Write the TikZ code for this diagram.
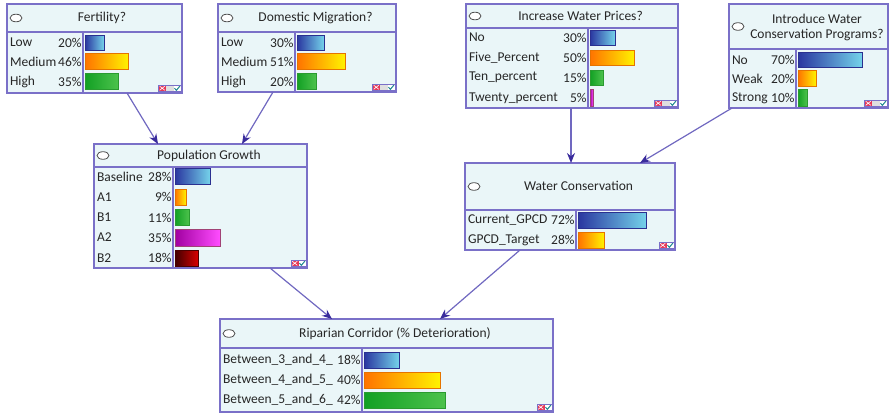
\documentclass[tikz,border=0pt]{standalone}
\usepackage{fontspec}
\setmainfont{Carlito}
\usetikzlibrary{arrows.meta,calc,fit}

\definecolor{boxfill}{HTML}{EAF6F8}
\definecolor{boxline}{HTML}{7A70C8}
\definecolor{linkline}{HTML}{7068C0}
\definecolor{linkhead}{HTML}{3A2C9C}
\definecolor{txt}{HTML}{262626}
\definecolor{xred}{HTML}{E83858}
\definecolor{chk}{HTML}{208890}
\definecolor{greenA}{HTML}{12A024}
\definecolor{greenB}{HTML}{4CC24C}
\definecolor{greenE}{HTML}{2A9A30}
\definecolor{blueA}{HTML}{2A36A0}
\definecolor{blueB}{HTML}{74D2EA}
\definecolor{blueE}{HTML}{2A3090}

\tikzset{
  every node/.style={font=\fontsize{13.5}{15}\selectfont, text=txt, inner sep=0pt, outer sep=0pt},
  cpt/.style={draw=boxline, line width=1.2pt, fill=boxfill, inner sep=0pt},
  rule/.style={draw=boxline, line width=1.1pt},
  link/.style={draw=linkline, line width=1.2pt, -{Stealth[length=10pt,width=8pt,color=linkhead]}},
  oval/.style={draw=txt!80, line width=0.8pt, fill=white},
  barblue/.style={left color=blueA, right color=blueB, draw=blueE},
  barorange/.style={left color=orange!90!red, right color=yellow!90!orange, draw=orange!90!black},
  bargreen/.style={left color=greenA, right color=greenB, draw=greenE},
  barpurple/.style={left color=violet!60!magenta!90!black, right color=magenta!70!white, draw=magenta!60!black},
  barred/.style={left color=red!25!black, right color=red!85!black, draw=red!30!black},
}

% a network node: name, x0, y0, x1, y1, title rule y, column divider x
\newcommand\cptbox[7]{%
  \coordinate (#1-nw) at (#2,#3);
  \coordinate (#1-se) at (#4,#5);
  \node[cpt, fit=(#1-nw)(#1-se)] (#1) {};
  \draw[rule] (#2,#6) -- (#4,#6);
  \draw[rule] (#7,#6) -- (#7,#5);
  \draw[oval] ({#2+9},{(#3+#6)/2}) ellipse (6 and 3.8);
}

% a state row: id, x0, divider, centre y, label, percent, bar length, bar style, bar height
\newcommand\crow[9]{%
  \node[anchor=west] (#1-l) at ({#2+3},#4) {#5};
  \node[anchor=east] (#1-p) at ({#3-1.5},#4) {#6};
  \draw[#8, line width=0.8pt] ({#3+2},{#4-#9/2}) rectangle ++(#7,#9);
}

% the small status tray at the bottom right corner of a node
\newcommand\tray[3]{%
  \begin{scope}[shift={(#1,#2)}]
    \ifnum#3=3
      \fill[xred] (-22.5,0) rectangle (-15,-6.5);
      \draw[white, line width=0.6pt] (-21.3,-1.2) -- (-16.2,-5.3) (-21.3,-5.3) -- (-16.2,-1.2);
      \fill[gray!25] (-15,0) rectangle (-7.5,-6.5);
    \else
      \fill[xred] (-15,0) rectangle (-7.5,-6.5);
      \draw[white, line width=0.6pt] (-13.8,-1.2) -- (-8.7,-5.3) (-13.8,-5.3) -- (-8.7,-1.2);
    \fi
    \fill[white] (-7.5,0) rectangle (0,-6.5);
    \draw[chk, line width=1pt] (-6.5,-3.3) -- (-4.6,-1.2) -- (-1,-5.6);
    \draw[boxline, line width=0.7pt] ({-7.5*#3},0) rectangle (0,-6.5);
  \end{scope}
}

\begin{document}
\begin{tikzpicture}[x=1pt,y=-1pt]
\useasboundingbox (0,0) rectangle (889,413);

% Fertility?
\cptbox{fert}{7}{4}{182}{93}{32}{83}
\node (fert-t) at (102,18) {Fertility?};
\crow{fert1}{7}{83}{42.5}{Low}{20\%}{19}{barblue}{15}
\crow{fert2}{7}{83}{61.5}{Medium}{46\%}{43}{barorange}{16}
\crow{fert3}{7}{83}{81.5}{High}{35\%}{33}{bargreen}{16}
\tray{181}{91.5}{3}

% Domestic Migration?
\cptbox{dom}{218}{4}{396}{92}{32}{295}
\node (dom-t) at (315.5,18) {Domestic Migration?};
\crow{dom1}{218}{295}{42.5}{Low}{30\%}{27}{barblue}{15}
\crow{dom2}{218}{295}{61.5}{Medium}{51\%}{48}{barorange}{16}
\crow{dom3}{218}{295}{81.5}{High}{20\%}{19}{bargreen}{16}
\tray{395}{90.5}{3}

% Increase Water Prices?
\cptbox{price}{466}{4}{678}{108}{28}{588}
\node (price-t) at (580.5,16) {Increase Water Prices?};
\crow{price1}{466}{588}{37.5}{No}{30\%}{25}{barblue}{15}
\crow{price2}{466}{588}{57.5}{Five\_Percent}{50\%}{44}{barorange}{15}
\crow{price3}{466}{588}{77.5}{Ten\_percent}{15\%}{13}{bargreen}{15}
\crow{price4}{466}{588}{98}{Twenty\_percent}{5\%}{3}{barpurple}{17}
\tray{677}{106.5}{3}

% Introduce Water Conservation Programs?
\cptbox{intro}{729}{4}{888}{108}{49}{796}
\node[align=center] (intro-t) at (817,27) {Introduce Water\\Conservation Programs?};
\crow{intro1}{729}{796}{60}{No}{70\%}{64}{barblue}{15}
\crow{intro2}{729}{796}{78.5}{Weak}{20\%}{18}{barorange}{16}
\crow{intro3}{729}{796}{98}{Strong}{10\%}{9}{bargreen}{17}
\tray{887}{106.5}{3}

% Population Growth
\cptbox{pop}{94}{144}{307}{268}{167}{173}
\node (pop-t) at (209,156) {Population Growth};
\crow{pop1}{94}{173}{176.5}{Baseline}{28\%}{35}{barblue}{16}
\crow{pop2}{94}{173}{197}{A1}{9\%}{11}{barorange}{16}
\crow{pop3}{94}{173}{217.5}{B1}{11\%}{14}{bargreen}{16}
\crow{pop4}{94}{173}{237.5}{A2}{35\%}{45}{barpurple}{17}
\crow{pop5}{94}{173}{258}{B2}{18\%}{23}{barred}{16}
\tray{306}{266.5}{2}

% Water Conservation
\cptbox{wc}{465}{163}{675}{250}{210}{576}
\node (wc-t) at (578.5,186) {Water Conservation};
\crow{wc1}{465}{576}{220}{Current\_GPCD}{72\%}{68}{barblue}{16}
\crow{wc2}{465}{576}{240}{GPCD\_Target}{28\%}{26}{barorange}{16}
\tray{674}{248.5}{2}

% Riparian Corridor
\cptbox{rip}{220}{319}{553}{412}{348}{362}
\node (rip-t) at (395,333.5) {Riparian Corridor (\% Deterioration)};
\crow{rip1}{220}{362}{360}{Between\_3\_and\_4\_}{18\%}{35}{barblue}{16}
\crow{rip2}{220}{362}{380}{Between\_4\_and\_5\_}{40\%}{76}{barorange}{16}
\crow{rip3}{220}{362}{400}{Between\_5\_and\_6\_}{42\%}{81}{bargreen}{16}
\tray{552}{410.5}{2}

% links between the nodes
\draw[link] ($(fert.south west)+(120,0)$) -- ($(pop.north west)+(64,0)$);
\draw[link] ($(dom.south west)+(55,0)$) -- ($(pop.north west)+(148,0)$);
\draw[link] ($(price.south west)+(105,0)$) -- ($(wc.north west)+(106,0)$);
\draw[link] ($(intro.south west)+(3,0)$) -- ($(wc.north west)+(175,0)$);
\draw[link] ($(pop.south west)+(176,0)$) -- ($(rip.north west)+(112,0)$);
\draw[link] ($(wc.south west)+(55,0)$) -- ($(rip.north west)+(220,0)$);
\end{tikzpicture}
\end{document}
